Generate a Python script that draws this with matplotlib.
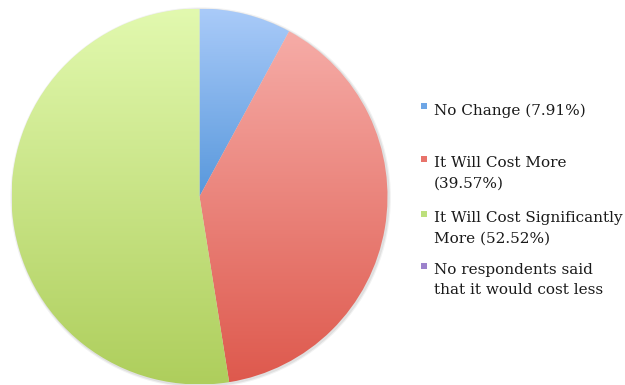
import numpy as np
import matplotlib
matplotlib.use("Agg")
import matplotlib.pyplot as plt
from matplotlib.colors import LinearSegmentedColormap
from matplotlib.patches import Rectangle, Circle

# ---- data ----
categories = ["No Change", "It Will Cost More", "It Will Cost Significantly More",
              "No respondents said that it would cost less"]
values = [7.91, 39.57, 52.52, 0.0]
legend_labels = ["No Change (7.91%)",
                 "It Will Cost More\n(39.57%)",
                 "It Will Cost Significantly\nMore (52.52%)",
                 "No respondents said\nthat it would cost less"]

# ---- style ----
grad_top = ["#aacbf9", "#f6aca7", "#e2f9af", "#b9a3de"]
grad_bot = ["#5898dc", "#de594d", "#aece5c", "#8a6cbd"]
legend_sq = ["#6ea6e6", "#e8736b", "#bde07c", "#9c82cc"]

W, H = 625, 385
fig = plt.figure(figsize=(W / 100, H / 100), dpi=100)
fig.patch.set_facecolor("white")

cx, cy, r = 199.5, 196.5, 188  # pixels (from top-left)
ax = fig.add_axes([(cx - r) / W, (H - cy - r) / H, 2 * r / W, 2 * r / H])
ax.axis("off")

wedges, _ = ax.pie(values, startangle=90, counterclock=False, radius=1,
                   wedgeprops=dict(linewidth=0))

# soft shadow
for k, a in [(1.012, 0.05), (1.006, 0.07)]:
    ax.add_patch(Circle((0.006, -0.006), k, facecolor="#000000", alpha=a,
                        edgecolor="none", zorder=0, clip_on=False))

for w, v, ct, cb in zip(wedges, values, grad_top, grad_bot):
    w.set_facecolor("none")
    w.set_edgecolor("none")
    if v <= 0:
        continue
    verts = w.get_path().vertices
    ymin, ymax = verts[:, 1].min(), verts[:, 1].max()
    cmap = LinearSegmentedColormap.from_list("g", [cb, ct])
    grad = np.linspace(0, 1, 256).reshape(-1, 1)
    im = ax.imshow(grad, cmap=cmap, origin="lower", aspect="auto",
                   extent=(-1.05, 1.05, ymin, ymax), zorder=2,
                   interpolation="bilinear")
    im.set_clip_path(w)

ax.set_xlim(-1, 1)
ax.set_ylim(-1, 1)
ax.set_aspect("equal")

# ---- legend ----
font = dict(family="DejaVu Serif", fontsize=11, color="#1a1a1a")
entry_baselines = [114.5, 167, 222, 274]
line_pitch = 20.5
for lab, col, yb in zip(legend_labels, legend_sq, entry_baselines):
    lines = lab.split("\n")
    for i, ln in enumerate(lines):
        fig.text(434 / W, 1 - (yb + i * line_pitch) / H, ln, va="baseline",
                 ha="left", **font)
    fig.patches.append(Rectangle((421 / W, 1 - (yb - 5.5) / H), 6 / W, 6 / H,
                                 transform=fig.transFigure, facecolor=col,
                                 edgecolor="none"))

fig.savefig("out.png", dpi=100, facecolor="white")
